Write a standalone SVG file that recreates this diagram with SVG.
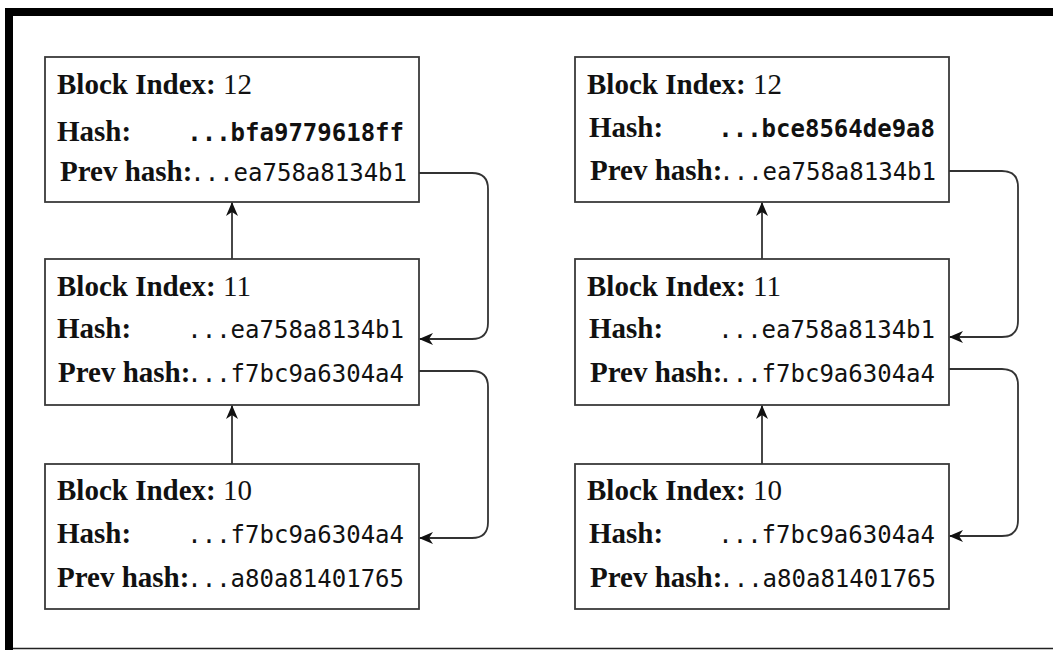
<svg xmlns="http://www.w3.org/2000/svg" width="1053" height="650" viewBox="0 0 1053 650">
<style>
.box{fill:#fff;stroke:#3a3a3a;stroke-width:1.8}
.lbl{font-family:"Liberation Serif","Times New Roman",serif;font-size:29px;font-weight:bold;fill:#111}
.num{font-weight:normal}
.mono{font-family:"DejaVu Sans Mono",monospace;font-size:24px;fill:#111;text-anchor:end}
.bold{font-weight:bold}
.con{fill:none;stroke:#333;stroke-width:1.8}
</style>
<defs>
<marker id="arr" viewBox="0 0 14 12" refX="13" refY="6" markerWidth="14" markerHeight="12" orient="auto" markerUnits="userSpaceOnUse">
<path d="M0,0 L14,6 L0,12 L4,6 z" fill="#111"/>
</marker>
</defs>
<rect x="0" y="0" width="1053" height="650" fill="#fff"/>
<g id="frame">
<rect x="5" y="8" width="1048" height="8" fill="#000"/>
<rect x="5" y="8" width="8" height="642" fill="#000"/>
<line x1="13" y1="648.5" x2="1053" y2="648.5" stroke="#222" stroke-width="1.5"/>
</g>
<g id="L12">
<rect class="box" x="45" y="57" width="374" height="145"/>
<text class="lbl" x="57" y="94">Block Index: <tspan class="num">12</tspan></text>
<text class="lbl" x="57" y="141">Hash:</text>
<text class="mono bold" x="404" y="141">...bfa9779618ff</text>
<text class="lbl" x="60" y="181">Prev hash:</text>
<text class="mono" x="407" y="181">...ea758a8134b1</text>
</g>
<g id="L11">
<rect class="box" x="45" y="259" width="374" height="146"/>
<text class="lbl" x="57" y="296">Block Index: <tspan class="num">11</tspan></text>
<text class="lbl" x="57" y="338">Hash:</text>
<text class="mono" x="404" y="338">...ea758a8134b1</text>
<text class="lbl" x="58" y="382">Prev hash:</text>
<text class="mono" x="404" y="382">...f7bc9a6304a4</text>
</g>
<g id="L10">
<rect class="box" x="45" y="464" width="374" height="145"/>
<text class="lbl" x="57" y="500">Block Index: <tspan class="num">10</tspan></text>
<text class="lbl" x="57" y="543">Hash:</text>
<text class="mono" x="404" y="543">...f7bc9a6304a4</text>
<text class="lbl" x="57" y="587">Prev hash:</text>
<text class="mono" x="404" y="587">...a80a81401765</text>
</g>
<g id="R12">
<rect class="box" x="575" y="57" width="374" height="145"/>
<text class="lbl" x="587" y="94">Block Index: <tspan class="num">12</tspan></text>
<text class="lbl" x="589" y="137">Hash:</text>
<text class="mono bold" x="935" y="137">...bce8564de9a8</text>
<text class="lbl" x="590" y="180">Prev hash:</text>
<text class="mono" x="936" y="180">...ea758a8134b1</text>
</g>
<g id="R11">
<rect class="box" x="575" y="259" width="374" height="146"/>
<text class="lbl" x="587" y="296">Block Index: <tspan class="num">11</tspan></text>
<text class="lbl" x="589" y="338">Hash:</text>
<text class="mono" x="935" y="338">...ea758a8134b1</text>
<text class="lbl" x="590" y="382">Prev hash:</text>
<text class="mono" x="935" y="382">...f7bc9a6304a4</text>
</g>
<g id="R10">
<rect class="box" x="575" y="464" width="374" height="145"/>
<text class="lbl" x="587" y="500">Block Index: <tspan class="num">10</tspan></text>
<text class="lbl" x="589" y="543">Hash:</text>
<text class="mono" x="935" y="543">...f7bc9a6304a4</text>
<text class="lbl" x="590" y="587">Prev hash:</text>
<text class="mono" x="936" y="587">...a80a81401765</text>
</g>
<g id="connectors">
<path class="con" d="M232,259 V203" marker-end="url(#arr)"/>
<path class="con" d="M232,464 V406" marker-end="url(#arr)"/>
<path class="con" d="M762,259 V203" marker-end="url(#arr)"/>
<path class="con" d="M762,464 V406" marker-end="url(#arr)"/>
<path class="con" d="M419,173 H472 Q488,173 488,189 V323 Q488,339 472,339 H420" marker-end="url(#arr)"/>
<path class="con" d="M419,371 H472 Q488,371 488,387 V522 Q488,538 472,538 H420" marker-end="url(#arr)"/>
<path class="con" d="M949,171 H1002 Q1018,171 1018,187 V321 Q1018,337 1002,337 H950" marker-end="url(#arr)"/>
<path class="con" d="M949,369 H1002 Q1018,369 1018,385 V520 Q1018,536 1002,536 H950" marker-end="url(#arr)"/>
</g>
</svg>
